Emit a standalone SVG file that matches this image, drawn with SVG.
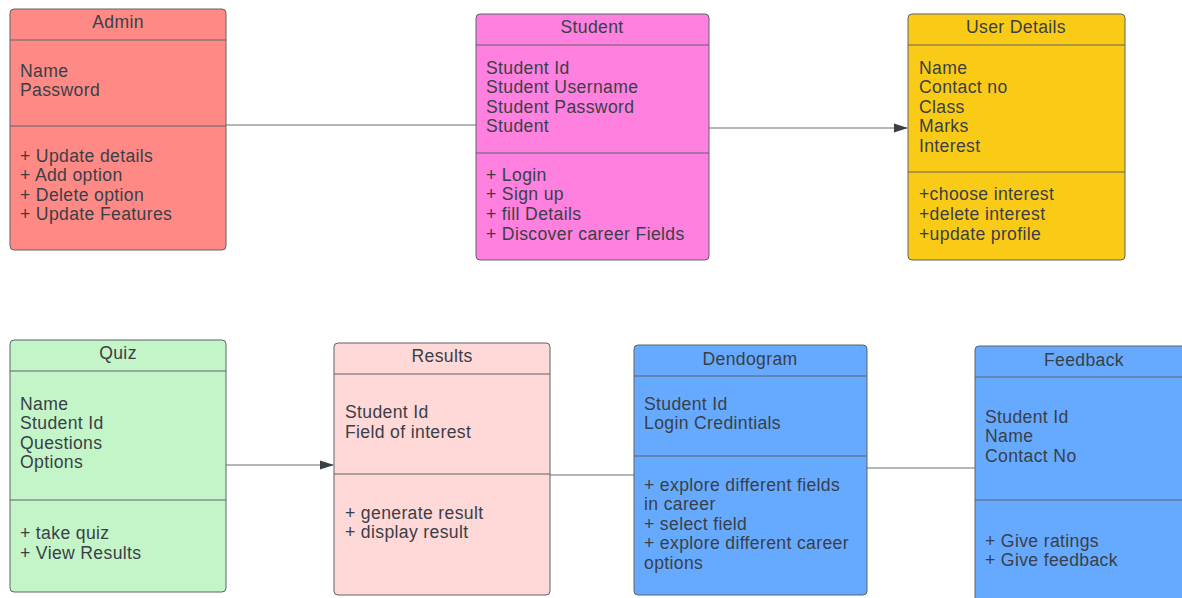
<svg xmlns="http://www.w3.org/2000/svg" width="1182" height="598" viewBox="0 0 1182 598">
<style>
text{font-family:"Liberation Sans",Arial,sans-serif;font-size:17.6px;letter-spacing:0.35px;fill:#3a3f47}
.t{text-anchor:middle}
.box{stroke:#5f6368;stroke-width:1}
.div{stroke:#5f6368;stroke-width:1}
.con{stroke:#6b6f75;stroke-width:1.2;fill:none}
</style>
<defs>
<marker id="arr" markerWidth="14" markerHeight="10" refX="13" refY="5" orient="auto" markerUnits="userSpaceOnUse">
<path d="M0,0.5 L14,5 L0,9.5 Z" fill="#3a3f47"/>
</marker>
</defs>
<rect width="1182" height="598" fill="#ffffff"/>
<g id="connectors">
<line class="con" x1="226" y1="125" x2="476" y2="125"/>
<line class="con" x1="709" y1="128" x2="907" y2="128" marker-end="url(#arr)"/>
<line class="con" x1="226" y1="465" x2="333" y2="465" marker-end="url(#arr)"/>
<line class="con" x1="550" y1="475" x2="634" y2="475"/>
<line class="con" x1="867" y1="468" x2="975" y2="468"/>
</g>
<g id="admin">
<rect class="box" x="10" y="9" width="216" height="241" rx="4" fill="#ff8a85"/>
<line class="div" x1="10" y1="40" x2="226" y2="40"/>
<line class="div" x1="10" y1="126" x2="226" y2="126"/>
<text class="t" x="118" y="28">Admin</text>
<text x="20" y="77">Name</text>
<text x="20" y="96">Password</text>
<text x="20" y="162">+ Update details</text>
<text x="20" y="181">+ Add option</text>
<text x="20" y="201">+ Delete option</text>
<text x="20" y="220">+ Update Features</text>
</g>
<g id="student">
<rect class="box" x="476" y="14" width="233" height="246" rx="4" fill="#ff80df"/>
<line class="div" x1="476" y1="45" x2="709" y2="45"/>
<line class="div" x1="476" y1="153" x2="709" y2="153"/>
<text class="t" x="592" y="33">Student</text>
<text x="486" y="74">Student Id</text>
<text x="486" y="93">Student Username</text>
<text x="486" y="113">Student Password</text>
<text x="486" y="132">Student</text>
<text x="486" y="181">+ Login</text>
<text x="486" y="200">+ Sign up</text>
<text x="486" y="220">+ fill Details</text>
<text x="486" y="240">+ Discover career Fields</text>
</g>
<g id="userdetails">
<rect class="box" x="908" y="14" width="217" height="246" rx="4" fill="#facb16"/>
<line class="div" x1="908" y1="45" x2="1125" y2="45"/>
<line class="div" x1="908" y1="172" x2="1125" y2="172"/>
<text class="t" x="1016" y="33">User Details</text>
<text x="919" y="74">Name</text>
<text x="919" y="93">Contact no</text>
<text x="919" y="113">Class</text>
<text x="919" y="132">Marks</text>
<text x="919" y="152">Interest</text>
<text x="919" y="200">+choose interest</text>
<text x="919" y="220">+delete interest</text>
<text x="919" y="240">+update profile</text>
</g>
<g id="quiz">
<rect class="box" x="10" y="340" width="216" height="252" rx="4" fill="#c3f5c8"/>
<line class="div" x1="10" y1="371" x2="226" y2="371"/>
<line class="div" x1="10" y1="500" x2="226" y2="500"/>
<text class="t" x="118" y="359">Quiz</text>
<text x="20" y="410">Name</text>
<text x="20" y="429">Student Id</text>
<text x="20" y="449">Questions</text>
<text x="20" y="468">Options</text>
<text x="20" y="539">+ take quiz</text>
<text x="20" y="559">+ View Results</text>
</g>
<g id="results">
<rect class="box" x="334" y="343" width="216" height="252" rx="4" fill="#ffd8d8"/>
<line class="div" x1="334" y1="374" x2="550" y2="374"/>
<line class="div" x1="334" y1="474" x2="550" y2="474"/>
<text class="t" x="442" y="362">Results</text>
<text x="345" y="418">Student Id</text>
<text x="345" y="438">Field of interest</text>
<text x="345" y="519">+ generate result</text>
<text x="345" y="538">+ display result</text>
</g>
<g id="dendogram">
<rect class="box" x="634" y="345" width="233" height="250" rx="4" fill="#66aaff"/>
<line class="div" x1="634" y1="376" x2="867" y2="376"/>
<line class="div" x1="634" y1="456" x2="867" y2="456"/>
<text class="t" x="750" y="365">Dendogram</text>
<text x="644" y="410">Student Id</text>
<text x="644" y="429">Login Credintials</text>
<text x="644" y="491">+ explore different fields</text>
<text x="644" y="510">in career</text>
<text x="644" y="530">+ select field</text>
<text x="644" y="549">+ explore different career</text>
<text x="644" y="569">options</text>
</g>
<g id="feedback">
<rect class="box" x="975" y="346" width="220" height="260" rx="4" fill="#66aaff"/>
<line class="div" x1="975" y1="377" x2="1182" y2="377"/>
<line class="div" x1="975" y1="500" x2="1182" y2="500"/>
<text class="t" x="1084" y="366">Feedback</text>
<text x="985" y="423">Student Id</text>
<text x="985" y="442">Name</text>
<text x="985" y="462">Contact No</text>
<text x="985" y="547">+ Give ratings</text>
<text x="985" y="566">+ Give feedback</text>
</g>
</svg>
